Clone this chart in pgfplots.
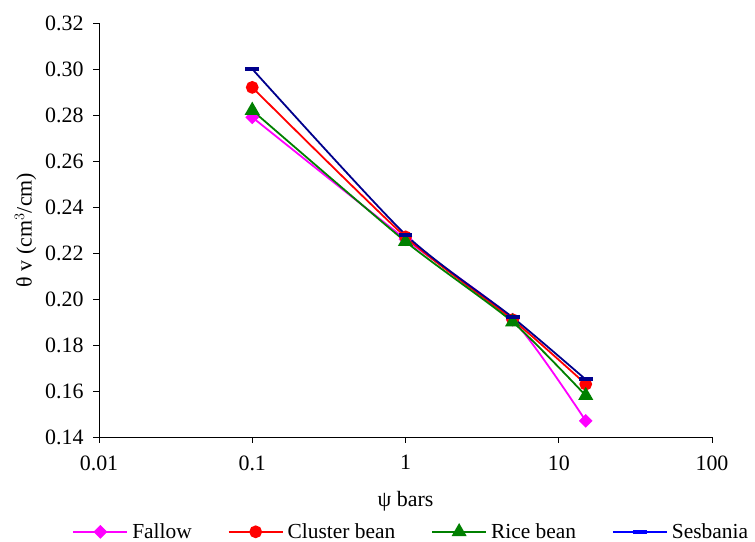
\documentclass[border=0pt]{standalone}
\usepackage{pgfplots}
\pgfplotsset{compat=1.18}
\usepackage{fontspec}
\setmainfont{Liberation Serif}
\definecolor{fal}{RGB}{255,0,255}
\definecolor{clu}{RGB}{255,0,0}
\definecolor{ric}{RGB}{0,128,0}
\definecolor{ses}{RGB}{0,0,140}
\definecolor{sesl}{RGB}{0,0,255}
\begin{document}
\begin{tikzpicture}[x=1bp,y=1bp]
\path[use as bounding box] (-99,-105) rectangle (656,437);
\begin{axis}[
  at={(0,0)}, anchor=south west,
  scale only axis, width=613bp, height=414bp,
  xmode=log, xmin=0.01, xmax=100, ymin=0.14, ymax=0.32,
  axis lines=left, axis line style={-, line width=0.8bp},
  xtick={0.01,0.1,1,10,100}, xticklabels={0.01,0.1,1,10,100},
  ytick={0.14,0.16,0.18,0.20,0.22,0.24,0.26,0.28,0.30,0.32},
  yticklabels={0.14,0.16,0.18,0.20,0.22,0.24,0.26,0.28,0.30,0.32},
  xminorticks=false, yminorticks=false,
  tick align=outside, major tick length=6bp,
  tick style={black, line width=0.8bp},
  ticklabel style={font=\fontsize{22}{24}\selectfont},
  xticklabel style={yshift=-9bp},
  yticklabel style={xshift=-6bp},
  xlabel={ψ bars}, ylabel={θ v (cm$^{3}$/cm)},
  label style={font=\fontsize{22}{24}\selectfont},
  xlabel style={yshift=-14bp},
  ylabel style={yshift=2bp},
  legend columns=4,
  legend style={draw=none, at={(0.511,-0.229)}, anchor=center,
    font=\fontsize{21.5}{24}\selectfont, inner sep=0pt,
    /tikz/every even column/.append style={column sep=32bp},
    nodes={inner xsep=4bp}},
  legend image code/.code={\draw[mark repeat=2,mark phase=2] plot coordinates {(0bp,0bp)(27bp,0bp)(54bp,0bp)};},
  every axis plot/.append style={line width=1.8bp, smooth, tension=0.4},
]
\addplot[forget plot, color=fal, mark=square*, mark size=4.6, mark options={fill=fal, rotate=45, line width=0.5bp}] coordinates {(0.1,0.279)(1,0.226)(5,0.191)(15,0.147)};
\addplot[forget plot, color=clu, mark=*, mark size=5.5, mark options={fill=clu}] coordinates {(0.1,0.292)(1,0.227)(5,0.191)(15,0.163)};
\addplot[forget plot, color=ric, mark=triangle*, mark size=7, mark options={fill=ric}] coordinates {(0.1,0.282)(1,0.225)(5,0.190)(15,0.158)};
\addplot[forget plot, color=ses, mark=-, mark size=7, mark options={line width=4bp}] coordinates {(0.1,0.300)(1,0.228)(5,0.192)(15,0.165)};
\addlegendimage{color=fal, line width=1.8bp, mark=square*, mark size=4.6, mark options={fill=fal, rotate=45, line width=0.5bp}}
\addlegendentry{Fallow}
\addlegendimage{color=clu, line width=1.8bp, mark=*, mark size=5.5, mark options={fill=clu}}
\addlegendentry{Cluster bean}
\addlegendimage{color=ric, line width=1.8bp, mark=triangle*, mark size=7, mark options={fill=ric}}
\addlegendentry{Rice bean}
\addlegendimage{color=sesl, line width=1.8bp, mark=-, mark size=7, mark options={line width=4bp}}
\addlegendentry{Sesbania}
\end{axis}
\end{tikzpicture}
\end{document}
